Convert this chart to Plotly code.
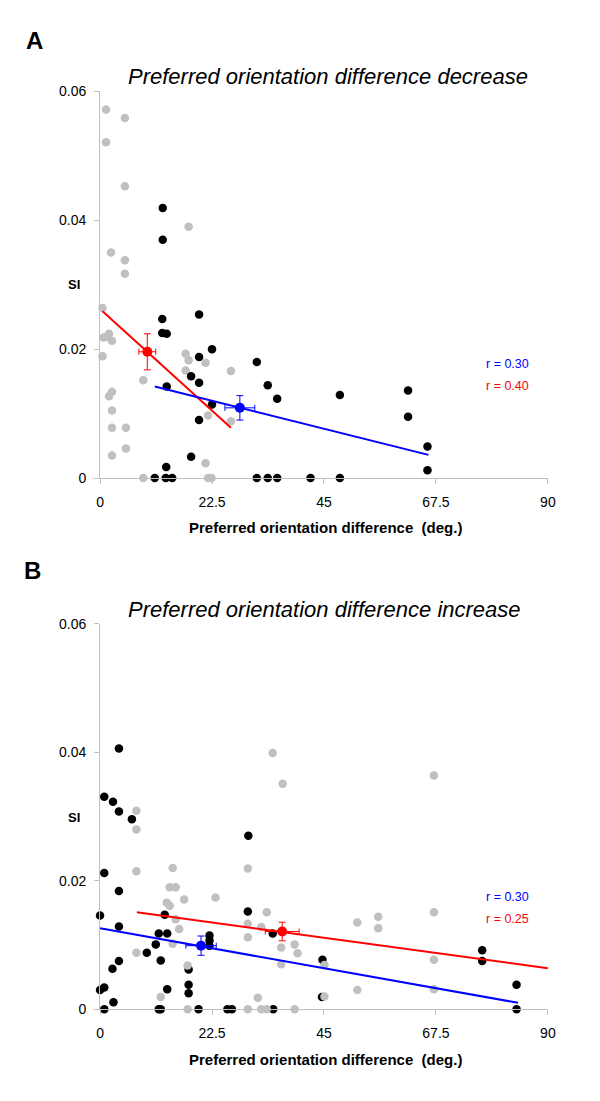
import plotly.graph_objects as go

# ---------------- Panel A data ----------------
a_gray_x = [1.2, 5.0, 1.2, 5.0, 17.8, 2.2, 5.0, 5.0, 0.5, 1.2, 1.8, 2.4, 0.7, 0.5, 17.2, 17.8, 21.2,
            17.2, 26.3, 8.7, 2.4, 1.8, 2.4, 21.7, 26.3, 2.4, 5.2, 5.2, 2.4, 21.2, 8.7, 21.7, 22.4]
a_gray_y = [0.0572, 0.0559, 0.0521, 0.0453, 0.0390, 0.0350, 0.0338, 0.0317, 0.0264, 0.0219, 0.0224,
            0.0213, 0.0218, 0.0189, 0.0193, 0.0183, 0.0179, 0.0167, 0.0166, 0.0152, 0.0134, 0.0127,
            0.0105, 0.0097, 0.0088, 0.0078, 0.0078, 0.0046, 0.0035, 0.0023, 0.0, 0.0, 0.0]
a_black_x = [12.6, 12.6, 19.9, 12.5, 12.5, 13.4, 22.5, 19.9, 31.5, 18.3, 19.9, 33.7, 13.4, 48.2, 61.9,
             35.6, 22.5, 61.9, 19.9, 65.8, 18.3, 13.3, 65.8, 11.0, 13.2, 14.5, 31.5, 33.7, 35.6, 42.3, 48.2]
a_black_y = [0.0419, 0.0370, 0.0254, 0.0247, 0.0225, 0.0224, 0.0200, 0.0188, 0.0180, 0.0158, 0.0148,
             0.0144, 0.0142, 0.0129, 0.0136, 0.0123, 0.0114, 0.0095, 0.0090, 0.0049, 0.0033, 0.0017,
             0.0012, 0.0, 0.0, 0.0, 0.0, 0.0, 0.0, 0.0, 0.0]
a_red_mean = dict(x=9.5, y=0.0196, xerr=1.7, yerr=0.0028)
a_blue_mean = dict(x=28.1, y=0.0109, xerr=3.0, yerr=0.0019)
a_red_line_x = [0.5, 26.3]
a_red_line_y = [0.0259, 0.0078]
a_blue_line_x = [11.0, 66.0]
a_blue_line_y = [0.0142, 0.0036]
a_r_labels = ["r = 0.30", "r = 0.40"]
a_title = "Preferred orientation difference decrease"

# ---------------- Panel B data ----------------
b_gray_x = [34.7, 36.7, 67.1, 7.3, 7.3, 7.3, 14.6, 29.7, 14.0, 15.2, 16.9, 23.2, 13.4, 14.0, 33.5, 15.2,
            29.7, 32.4, 15.9, 29.7, 14.6, 39.1, 36.4, 7.3, 39.7, 36.4, 17.6, 45.1, 12.2, 31.7, 45.1,
            51.7, 55.9, 55.9, 51.7, 67.1, 67.1, 67.1, 17.6, 29.7, 32.4, 33.5, 39.1]
b_gray_y = [0.0399, 0.0351, 0.0364, 0.0309, 0.0280, 0.0215, 0.0220, 0.0219, 0.0190, 0.0190, 0.0171,
            0.0174, 0.0166, 0.0161, 0.0151, 0.0140, 0.0133, 0.0128, 0.0125, 0.0112, 0.0102, 0.0101,
            0.0096, 0.0088, 0.0087, 0.0070, 0.0068, 0.0069, 0.0019, 0.0018, 0.0020, 0.0135, 0.0144,
            0.0126, 0.0030, 0.0151, 0.0077, 0.0031, 0.0, 0.0, 0.0, 0.0, 0.0]
b_black_x = [3.8, 0.85, 2.6, 3.8, 6.4, 29.8, 0.85, 3.8, 0.0, 13.0, 29.7, 3.8, 11.8, 13.5, 34.7, 22.0,
             22.0, 22.0, 11.2, 9.4, 12.2, 3.8, 2.5, 17.8, 17.8, 17.8, 13.5, 0.85, 0.0, 2.7, 44.7, 44.6,
             76.8, 76.8, 83.7, 0.85, 11.8, 12.2, 19.8, 25.6, 26.5, 34.8, 83.7]
b_black_y = [0.0406, 0.0331, 0.0323, 0.0308, 0.0296, 0.0270, 0.0212, 0.0184, 0.0146, 0.0147, 0.0152,
             0.0129, 0.0118, 0.0118, 0.0118, 0.0115, 0.0107, 0.0099, 0.0101, 0.0088, 0.0076, 0.0075,
             0.0063, 0.0062, 0.0038, 0.0025, 0.0031, 0.0034, 0.0030, 0.0011, 0.0077, 0.0019, 0.0092,
             0.0075, 0.0038, 0.0, 0.0, 0.0, 0.0, 0.0, 0.0, 0.0, 0.0]
b_red_mean = dict(x=36.6, y=0.0121, xerr=3.4, yerr=0.00145)
b_blue_mean = dict(x=20.3, y=0.0099, xerr=3.05, yerr=0.0015)
b_red_line_x = [7.4, 90.0]
b_red_line_y = [0.0151, 0.0064]
b_blue_line_x = [0.0, 84.0]
b_blue_line_y = [0.0126, 0.0010]
b_r_labels = ["r = 0.30", "r = 0.25"]
b_title = "Preferred orientation difference increase"

x_tickvals = [0, 22.5, 45, 67.5, 90]
x_ticktext = ["0", "22.5", "45", "67.5", "90"]
y_tickvals = [0, 0.02, 0.04, 0.06]
y_ticktext = ["0", "0.02", "0.04", "0.06"]
x_label = "Preferred orientation difference  (deg.)"
y_label = "SI"

FONT = "Arial, 'Liberation Sans', sans-serif"
GRAY = "#c0c0c0"
AXIS = "#bfbfbf"
W, H = 600, 1101

fig = go.Figure()


def add_panel(xa, ya, gx, gy, bx, by, rm, bm, rlx, rly, blx, bly, gray_on_top):
    gray = go.Scatter(x=gx, y=gy, mode="markers", xaxis=xa, yaxis=ya,
                      marker=dict(color=GRAY, size=8.5, line=dict(width=0)), cliponaxis=False)
    black = go.Scatter(x=bx, y=by, mode="markers", xaxis=xa, yaxis=ya,
                       marker=dict(color="black", size=8.5, line=dict(width=0)), cliponaxis=False)
    if gray_on_top:
        fig.add_trace(black)
        fig.add_trace(gray)
    else:
        fig.add_trace(gray)
        fig.add_trace(black)
    fig.add_trace(go.Scatter(x=rlx, y=rly, mode="lines", xaxis=xa, yaxis=ya,
                             line=dict(color="#ff0000", width=2), cliponaxis=False))
    fig.add_trace(go.Scatter(x=blx, y=bly, mode="lines", xaxis=xa, yaxis=ya,
                             line=dict(color="#0000ff", width=2), cliponaxis=False))
    for m, col in ((rm, "#ff0000"), (bm, "#0000ff")):
        fig.add_trace(go.Scatter(
            x=[m["x"]], y=[m["y"]], mode="markers", xaxis=xa, yaxis=ya,
            marker=dict(color=col, size=10),
            error_x=dict(type="constant", value=m["xerr"], color=col, thickness=1, width=3),
            error_y=dict(type="constant", value=m["yerr"], color=col, thickness=1, width=3.5),
            cliponaxis=False))


add_panel("x", "y", a_gray_x, a_gray_y, a_black_x, a_black_y, a_red_mean, a_blue_mean,
          a_red_line_x, a_red_line_y, a_blue_line_x, a_blue_line_y, False)
add_panel("x2", "y2", b_gray_x, b_gray_y, b_black_x, b_black_y, b_red_mean, b_blue_mean,
          b_red_line_x, b_red_line_y, b_blue_line_x, b_blue_line_y, True)

xdom = [98 / W, 555 / W]
ya_dom = [1 - 477 / H, 1 - 84.7 / H]
yb_dom = [1 - 1016 / H, 1 - 625 / H]

common_x = dict(range=[0, 90], tickvals=x_tickvals, ticktext=x_ticktext, showgrid=False,
                zeroline=False, showline=True, linecolor=AXIS, linewidth=1, ticks="outside",
                ticklen=5, tickcolor=AXIS, tickfont=dict(family=FONT, size=14, color="black"),
                ticklabelstandoff=6, fixedrange=True)
common_y = dict(range=[0, 0.06], tickvals=y_tickvals, ticktext=y_ticktext, showgrid=False,
                zeroline=False, showline=True, linecolor=AXIS, linewidth=1, ticks="outside",
                ticklen=5, tickcolor=AXIS, tickfont=dict(family=FONT, size=14, color="black"),
                ticklabelstandoff=5, fixedrange=True)

fig.update_layout(
    width=W, height=H, margin=dict(l=0, r=0, t=0, b=0),
    paper_bgcolor="white", plot_bgcolor="white", showlegend=False,
    xaxis=dict(domain=xdom, anchor="y", **common_x),
    yaxis=dict(domain=ya_dom, anchor="x", **common_y),
    xaxis2=dict(domain=xdom, anchor="y2", **common_x),
    yaxis2=dict(domain=yb_dom, anchor="x2", **common_y),
)


def px_ann(text, x, y, size, bold=False, italic=False, color="black", xanchor="center"):
    if bold:
        text = "<b>" + text + "</b>"
    if italic:
        text = "<i>" + text + "</i>"
    fig.add_annotation(text=text, x=x / W, y=1 - y / H, xref="paper", yref="paper",
                       xanchor=xanchor, yanchor="middle", showarrow=False,
                       font=dict(family=FONT, size=size, color=color))


# Panel letters
px_ann("A", 31, 33, 24, bold=True)
px_ann("B", 29, 571, 24, bold=True)
# Titles
px_ann(a_title, 124, 70, 22, italic=True, xanchor="left")
px_ann(b_title, 124, 610, 22, italic=True, xanchor="left")
# Axis labels
px_ann(x_label, 328, 527, 15, bold=True)
px_ann(x_label, 328, 1067, 15, bold=True)
px_ann(y_label, 71, 281, 13, bold=True)
px_ann(y_label, 71, 821, 13, bold=True)

# r labels (data coordinates)
for xa, ya, labels, ys in (("x", "y", a_r_labels, [0.0177, 0.01425]),
                            ("x2", "y2", b_r_labels, [0.0174, 0.0140])):
    for lab, yy, col in zip(labels, ys, ["#0000ff", "#ff0000"]):
        fig.add_annotation(text=lab, x=81.8, y=yy, xref=xa, yref=ya, showarrow=False,
                           xanchor="center", yanchor="middle",
                           font=dict(family=FONT, size=12.5, color=col))

fig.write_html("out.html",
               config={"displayModeBar": False, "staticPlot": True},
               post_script="document.body.style.margin='0';document.body.style.overflow='hidden';")
